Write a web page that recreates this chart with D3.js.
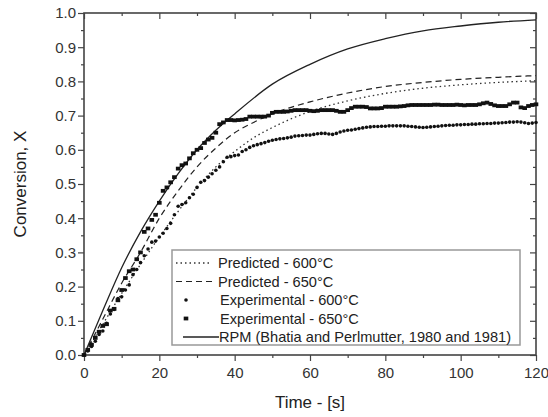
<!DOCTYPE html>
<html>
<head>
<meta charset="utf-8">
<script src="https://cdn.jsdelivr.net/npm/d3@7"></script>
<style>
  body { margin: 0; background: #fff; }
  text { font-family: "Liberation Sans", Arial, sans-serif; fill: #222; }
</style>
</head>
<body>
<div id="img"></div>
<script>
const rpmT = [0, 5, 10, 15, 20, 25, 30, 35, 40, 50, 60, 70, 80, 90, 100, 110, 120];
const rpmX = [0, 0.13, 0.255, 0.36, 0.45, 0.53, 0.60, 0.657, 0.705, 0.792, 0.85, 0.895, 0.925, 0.948, 0.962, 0.973, 0.98];

const predT = [0, 5, 10, 15, 20, 25, 30, 35, 40, 45, 50, 60, 70, 80, 90, 100, 110, 120];
const pred650 = [0, 0.105, 0.21, 0.30, 0.40, 0.48, 0.55, 0.605, 0.65, 0.68, 0.705, 0.74, 0.766, 0.785, 0.797, 0.806, 0.812, 0.817];
const pred600 = [0, 0.09, 0.18, 0.265, 0.345, 0.42, 0.49, 0.55, 0.595, 0.635, 0.665, 0.712, 0.743, 0.765, 0.78, 0.79, 0.797, 0.802];

// experimental runs, one reading per second
const expT = d3.range(0, 121, 1);
const exp650 = [
  0, 0.015, 0.03, 0.05, 0.068, 0.085, 0.09, 0.13, 0.135, 0.16,
  0.19, 0.225, 0.245, 0.25, 0.28, 0.30, 0.36, 0.37, 0.395, 0.41,
  0.445, 0.48, 0.49, 0.505, 0.52, 0.545, 0.555, 0.56, 0.575, 0.59,
  0.60, 0.605, 0.62, 0.63, 0.635, 0.65, 0.675, 0.68, 0.687, 0.687,
  0.686, 0.687, 0.688, 0.69, 0.697, 0.697, 0.697, 0.697, 0.697, 0.70,
  0.708, 0.711, 0.711, 0.711, 0.712, 0.714, 0.716, 0.716, 0.716, 0.716,
  0.714, 0.713, 0.714, 0.716, 0.716, 0.716, 0.716, 0.714, 0.711, 0.711,
  0.716, 0.722, 0.726, 0.726, 0.726, 0.725, 0.721, 0.721, 0.721, 0.722,
  0.726, 0.726, 0.726, 0.726, 0.727, 0.728, 0.730, 0.731, 0.731, 0.731,
  0.731, 0.731, 0.731, 0.732, 0.732, 0.731, 0.731, 0.731, 0.731, 0.732,
  0.731, 0.730, 0.731, 0.731, 0.731, 0.733, 0.736, 0.738, 0.734, 0.730,
  0.728, 0.728, 0.728, 0.733, 0.738, 0.738, 0.724, 0.722, 0.728, 0.731,
  0.733];
const exp600 = [
  0, 0.012, 0.025, 0.04, 0.06, 0.07, 0.093, 0.12, 0.133, 0.165,
  0.17, 0.19, 0.205, 0.235, 0.25, 0.27, 0.29, 0.31, 0.33, 0.333,
  0.345, 0.356, 0.37, 0.385, 0.41, 0.435, 0.44, 0.445, 0.46, 0.47,
  0.49, 0.505, 0.51, 0.52, 0.53, 0.54, 0.55, 0.565, 0.578, 0.58,
  0.583, 0.585, 0.595, 0.60, 0.607, 0.612, 0.615, 0.618, 0.621, 0.625,
  0.628, 0.63, 0.632, 0.633, 0.635, 0.637, 0.64, 0.641, 0.642, 0.643,
  0.643, 0.645, 0.647, 0.648, 0.648, 0.646, 0.645, 0.648, 0.652, 0.655,
  0.657, 0.658, 0.66, 0.662, 0.664, 0.666, 0.667, 0.668, 0.668, 0.669,
  0.669, 0.67, 0.67, 0.67, 0.67, 0.67, 0.669, 0.668, 0.667, 0.666,
  0.665, 0.666, 0.667, 0.668, 0.669, 0.67, 0.671, 0.672, 0.672, 0.673,
  0.673, 0.674, 0.674, 0.675, 0.675, 0.676, 0.676, 0.677, 0.677, 0.678,
  0.678, 0.679, 0.68, 0.681, 0.681, 0.682, 0.681, 0.679, 0.677, 0.678,
  0.68];

const legendLabels = ["Predicted - 600°C", "Predicted - 650°C", "Experimental - 600°C",
  "Experimental - 650°C", "RPM (Bhatia and Perlmutter, 1980 and 1981)"];

const W = 548, H = 417;
const mar = {top: 13, right: 12, bottom: 62, left: 84};

var svg = d3.select("#img").append("svg")
  .attr("width", W)
  .attr("height", H);

var x = d3.scaleLinear().domain([0, 120]).range([mar.left, W - mar.right]);
var y = d3.scaleLinear().domain([0, 1]).range([H - mar.bottom, mar.top]);

var axisColor = "#444";

// axes: major + minor ticks
function drawAxis(axisGen, tx, ty, minorTicks, majorTicks, labels) {
  var gMinor = svg.append("g").attr("transform", "translate(" + tx + "," + ty + ")")
    .call(axisGen.tickValues(minorTicks).tickSize(3).tickFormat(""));
  gMinor.select(".domain").remove();
  gMinor.selectAll("line").attr("stroke", axisColor).attr("stroke-width", 1.2);
  var g = svg.append("g").attr("transform", "translate(" + tx + "," + ty + ")")
    .call(axisGen.tickValues(majorTicks).tickSize(6).tickFormat(labels ? null : ""));
  g.select(".domain").remove();
  g.selectAll("line").attr("stroke", axisColor).attr("stroke-width", 1.2);
  g.selectAll("text").style("font-size", "15px").style("fill", "#333");
  return g;
}

var xMaj = d3.range(0, 121, 20), xMin = d3.range(10, 120, 20);
var yMaj = d3.range(0, 1.01, 0.1), yMin = d3.range(0.05, 1, 0.1);

var gx = drawAxis(d3.axisBottom(x), 0, H - mar.bottom, xMin, xMaj, true);
gx.selectAll("text").attr("dy", "0.95em");
var gy = drawAxis(d3.axisLeft(y), mar.left, 0, yMin, yMaj, true);
gy.selectAll("text").attr("x", -8).text(d3.format(".1f"));
drawAxis(d3.axisBottom(x), 0, mar.top, xMin, xMaj, false);   // top, inward
drawAxis(d3.axisLeft(y), W - mar.right, 0, yMin, yMaj, false); // right, inward

svg.append("rect")
  .attr("x", mar.left).attr("y", mar.top)
  .attr("width", W - mar.right - mar.left).attr("height", H - mar.bottom - mar.top)
  .attr("fill", "none").attr("stroke", axisColor).attr("stroke-width", 1.6);

// lines
var line = d3.line().x(d => x(d[0])).y(d => y(d[1])).curve(d3.curveMonotoneX);

svg.append("path").datum(d3.zip(predT, pred600)).attr("d", line)
  .attr("fill", "none").attr("stroke", "#333").attr("stroke-width", 1.3).attr("stroke-dasharray", "1.5,3");
svg.append("path").datum(d3.zip(predT, pred650)).attr("d", line)
  .attr("fill", "none").attr("stroke", "#222").attr("stroke-width", 1.2).attr("stroke-dasharray", "6,4");
svg.append("path").datum(d3.zip(rpmT, rpmX)).attr("d", line)
  .attr("fill", "none").attr("stroke", "#222").attr("stroke-width", 1.3);

// experimental points
svg.append("g").selectAll("circle").data(d3.zip(expT, exp600)).enter()
  .append("circle")
  .attr("cx", d => x(d[0])).attr("cy", d => y(d[1])).attr("r", 1.8)
  .attr("fill", "#111");
svg.append("g").selectAll("rect").data(d3.zip(expT, exp650)).enter()
  .append("rect")
  .attr("x", d => x(d[0]) - 2.3).attr("y", d => y(d[1]) - 1.9)
  .attr("width", 4.6).attr("height", 3.8)
  .attr("fill", "#111");

// legend
var lg = svg.append("g").attr("transform", "translate(172,250)");
lg.append("rect").attr("width", 348).attr("height", 95)
  .attr("fill", "#fff").attr("stroke", "#999").attr("stroke-width", 1.5);

var rowY = i => 13 + i * 18.5;
lg.append("line").attr("x1", 4).attr("x2", 40).attr("y1", rowY(0)).attr("y2", rowY(0))
  .attr("stroke", "#333").attr("stroke-width", 1.3).attr("stroke-dasharray", "1.5,3");
lg.append("line").attr("x1", 4).attr("x2", 42).attr("y1", rowY(1)).attr("y2", rowY(1))
  .attr("stroke", "#222").attr("stroke-width", 1.2).attr("stroke-dasharray", "6,4");
lg.append("circle").attr("cx", 14).attr("cy", rowY(2)).attr("r", 1.8).attr("fill", "#111");
lg.append("rect").attr("x", 11.7).attr("y", rowY(3) - 1.9).attr("width", 4.6).attr("height", 3.8).attr("fill", "#111");
lg.append("line").attr("x1", 11).attr("x2", 47).attr("y1", rowY(4)).attr("y2", rowY(4))
  .attr("stroke", "#222").attr("stroke-width", 1.3);

lg.selectAll("text.lab").data(legendLabels).enter()
  .append("text").attr("class", "lab")
  .attr("x", (d, i) => i < 2 ? 46 : (i < 4 ? 48 : 47))
  .attr("y", (d, i) => rowY(i))
  .attr("dy", "0.35em")
  .style("font-size", "14.6px")
  .text(d => d);

// axis titles
svg.append("text")
  .attr("x", (mar.left + W - mar.right) / 2).attr("y", 408)
  .attr("text-anchor", "middle").style("font-size", "17px")
  .text("Time - [s]");
svg.append("text")
  .attr("transform", "translate(26," + ((mar.top + H - mar.bottom) / 2) + ") rotate(-90)")
  .attr("text-anchor", "middle").style("font-size", "17px")
  .text("Conversion, X");
</script>
</body>
</html>
